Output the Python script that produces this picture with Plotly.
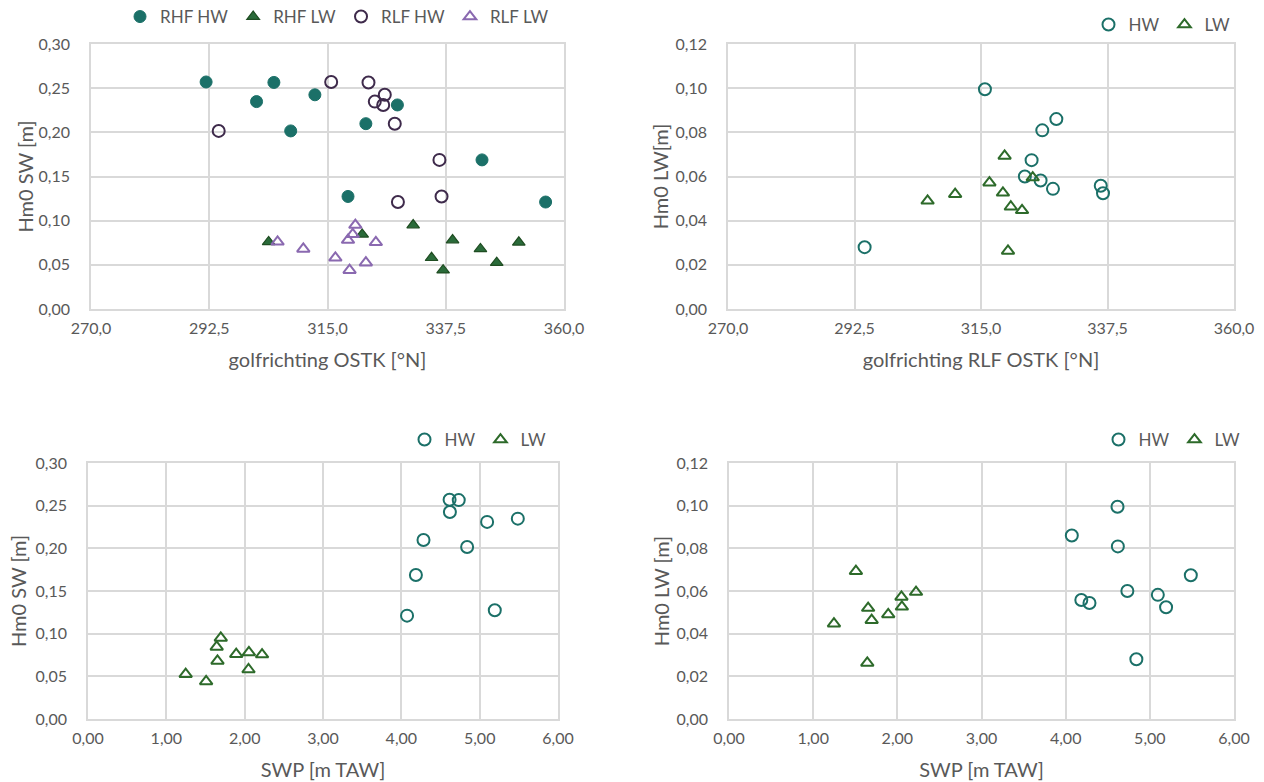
import plotly.graph_objects as go

# HW events
hw_rhf_dir = [291.9, 304.8, 301.5, 312.6, 308.0, 328.3, 322.3, 344.4, 318.9, 356.5]
hw_rlf_dir = [315.7, 322.8, 324.0, 325.9, 294.3, 325.6, 327.8, 336.3, 336.7, 328.4]
hw_swp = [4.616, 4.733, 5.487, 4.620, 4.840, 5.095, 4.283, 4.186, 5.193, 4.073]
hw_hm0_sw = [0.257, 0.2565, 0.2348, 0.2425, 0.2016, 0.231, 0.2098, 0.1688, 0.1274, 0.1211]
hw_hm0_lw = [0.0995, 0.060, 0.0674, 0.0809, 0.028, 0.0582, 0.0544, 0.0558, 0.0524, 0.086]

# LW events
lw_rhf_dir = [303.8, 344.1, 334.8, 338.8, 337.0, 321.6, 331.3, 347.2, 351.4]
lw_rlf_dir = [305.5, 310.4, 316.5, 318.9, 319.2, 319.8, 320.3, 322.3, 324.2]
lw_swp = [1.892, 1.653, 2.049, 2.054, 1.508, 1.643, 1.695, 1.247, 2.222]
lw_hm0_sw = [0.076, 0.068, 0.058, 0.078, 0.044, 0.0845, 0.095, 0.0525, 0.0755]
lw_hm0_lw = [0.049, 0.052, 0.0572, 0.0526, 0.0693, 0.0263, 0.0463, 0.0447, 0.0595]

W, H = 1264, 782
TEAL = "#1b7068"
GREEN = "#2d6a2a"
PURPLE_D = "#3e2a4b"
PURPLE_L = "#8a69b0"
TXT = "#595959"
GRID = "#d9d9d9"
FONT = "Lato"

def dom_x(a, b):
    return [a / W, b / W]

def dom_y(top, bot):
    return [1 - bot / H, 1 - top / H]

fig = go.Figure()

# Panel 1
fig.add_trace(go.Scatter(x=hw_rhf_dir, y=hw_hm0_sw, mode="markers", name="RHF HW",
                         marker=dict(symbol="circle", size=12, color=TEAL, line=dict(color=TEAL, width=1)),
                         xaxis="x", yaxis="y", legend="legend"))
fig.add_trace(go.Scatter(x=lw_rhf_dir, y=lw_hm0_sw, mode="markers", name="RHF LW",
                         marker=dict(symbol="triangle-up", size=11, color="#2a6b3a", line=dict(color="#1f4d22", width=1.2)),
                         xaxis="x", yaxis="y", legend="legend"))
fig.add_trace(go.Scatter(x=hw_rlf_dir, y=hw_hm0_sw, mode="markers", name="RLF HW",
                         marker=dict(symbol="circle-open", size=12, color=PURPLE_D, line=dict(width=2)),
                         xaxis="x", yaxis="y", legend="legend"))
fig.add_trace(go.Scatter(x=lw_rlf_dir, y=lw_hm0_sw, mode="markers", name="RLF LW",
                         marker=dict(symbol="triangle-up-open", size=11, color=PURPLE_L, line=dict(width=2)),
                         xaxis="x", yaxis="y", legend="legend"))

# Panel 2
fig.add_trace(go.Scatter(x=hw_rlf_dir, y=hw_hm0_lw, mode="markers", name="HW",
                         marker=dict(symbol="circle-open", size=12, color=TEAL, line=dict(width=2)),
                         xaxis="x2", yaxis="y2", legend="legend2"))
fig.add_trace(go.Scatter(x=lw_rlf_dir, y=lw_hm0_lw, mode="markers", name="LW",
                         marker=dict(symbol="triangle-up-open", size=11, color=GREEN, line=dict(width=2)),
                         xaxis="x2", yaxis="y2", legend="legend2"))

# Panel 3
fig.add_trace(go.Scatter(x=hw_swp, y=hw_hm0_sw, mode="markers", name="HW",
                         marker=dict(symbol="circle-open", size=12, color=TEAL, line=dict(width=2)),
                         xaxis="x3", yaxis="y3", legend="legend3"))
fig.add_trace(go.Scatter(x=lw_swp, y=lw_hm0_sw, mode="markers", name="LW",
                         marker=dict(symbol="triangle-up-open", size=11, color=GREEN, line=dict(width=2)),
                         xaxis="x3", yaxis="y3", legend="legend3"))

# Panel 4
fig.add_trace(go.Scatter(x=hw_swp, y=hw_hm0_lw, mode="markers", name="HW",
                         marker=dict(symbol="circle-open", size=12, color=TEAL, line=dict(width=2)),
                         xaxis="x4", yaxis="y4", legend="legend4"))
fig.add_trace(go.Scatter(x=lw_swp, y=lw_hm0_lw, mode="markers", name="LW",
                         marker=dict(symbol="triangle-up-open", size=11, color=GREEN, line=dict(width=2)),
                         xaxis="x4", yaxis="y4", legend="legend4"))

def xax(domain, anchor, rng, dtick, fmt, title):
    return dict(domain=domain, anchor=anchor, range=rng, dtick=dtick, tick0=rng[0], tickformat=fmt,
                showgrid=True, gridcolor=GRID, gridwidth=1.5, zeroline=False,
                showline=True, linecolor=GRID, linewidth=1.5, mirror=True, ticks="",
                ticklabelstandoff=4, automargin=False,
                tickfont=dict(family=FONT, size=16, color=TXT),
                title=dict(text=title, font=dict(family=FONT, size=20, color=TXT), standoff=17))

def yax(domain, anchor, rng, dtick, fmt, title, standoff):
    return dict(domain=domain, anchor=anchor, range=rng, dtick=dtick, tick0=0, tickformat=fmt,
                showgrid=True, gridcolor=GRID, gridwidth=1.5, zeroline=False,
                showline=True, linecolor=GRID, linewidth=1.5, mirror=True, ticks="",
                ticklabelstandoff=16, automargin=False,
                tickfont=dict(family=FONT, size=16, color=TXT),
                title=dict(text=title, font=dict(family=FONT, size=20, color=TXT), standoff=standoff))

def leg(xc, ytop):
    return dict(x=xc / W, y=1 - ytop / H, xanchor="center", yanchor="top", orientation="h",
                font=dict(family=FONT, size=17, color=TXT), bgcolor="rgba(0,0,0,0)",
                itemwidth=30, tracegroupgap=0)

fig.update_layout(
    width=W, height=H, margin=dict(l=0, r=0, t=0, b=0, autoexpand=False),
    paper_bgcolor="white", plot_bgcolor="white",
    separators=", ",
    xaxis=xax(dom_x(91, 564), "y", [270, 360], 22.5, ".1f", "golfrichting OSTK [°N]"),
    yaxis=yax(dom_y(44, 309), "x", [0, 0.30], 0.05, ".2f", "Hm0 SW [m]", 0),
    xaxis2=xax(dom_x(728, 1234), "y2", [270, 360], 22.5, ".1f", "golfrichting RLF OSTK [°N]"),
    yaxis2=yax(dom_y(44, 309), "x2", [0, 0.12], 0.02, ".2f", "Hm0 LW[m]", 2),
    xaxis3=xax(dom_x(88, 558), "y3", [0, 6], 1, ".2f", "SWP [m TAW]"),
    yaxis3=yax(dom_y(463, 719), "x3", [0, 0.30], 0.05, ".2f", "Hm0 SW [m]", 4),
    xaxis4=xax(dom_x(729, 1234), "y4", [0, 6], 1, ".2f", "SWP [m TAW]"),
    yaxis4=yax(dom_y(463, 719), "x4", [0, 0.12], 0.02, ".2f", "Hm0 LW [m]", 2),
    legend=leg(337, -1),
    legend2=leg(1162, 7),
    legend3=leg(478, 422),
    legend4=leg(1172, 422),
)

fig.write_html("out.html")
